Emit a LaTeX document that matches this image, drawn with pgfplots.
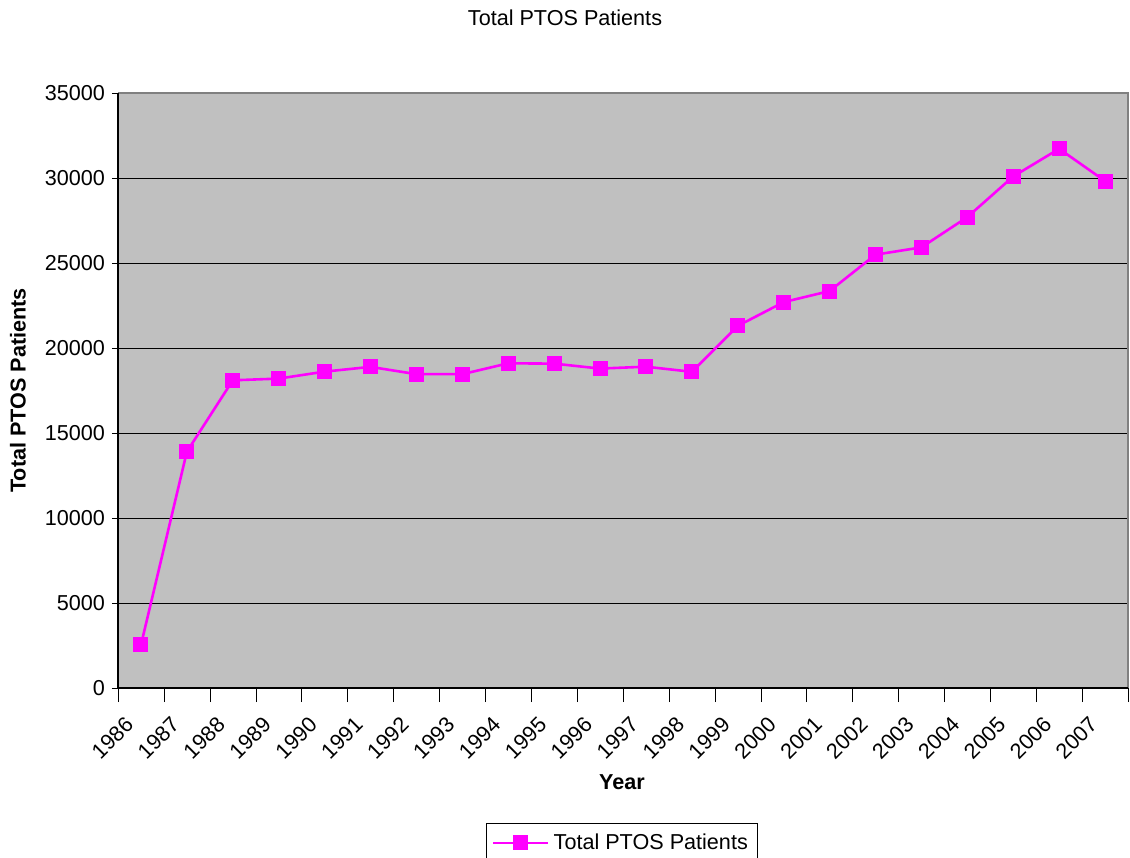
\documentclass[border=0pt]{standalone}
\usepackage{fontspec}
\setmainfont{Liberation Sans}
\usepackage{pgfplots}
\pgfplotsset{compat=1.18}
\definecolor{plotgray}{HTML}{C0C0C0}
\definecolor{edgegray}{HTML}{808080}
\definecolor{ptos}{HTML}{FF00FF}

\begin{document}
\begin{tikzpicture}
  \useasboundingbox (0,0) rectangle (565pt,428.5pt);
  \begin{axis}[
    at={(59pt,84.5pt)}, anchor=south west,
    scale only axis, width=505pt, height=297.5pt,
    /pgf/number format/assume math mode=true,
    font=\fontsize{10.8pt}{13pt}\selectfont,
    xmin=0, xmax=22, ymin=0, ymax=35000,
    axis background/.style={fill=plotgray},
    axis line style={draw=none},
    xtick={0.5,1.5,...,21.5},
    xticklabels={1986,1987,1988,1989,1990,1991,1992,1993,1994,1995,1996,1997,1998,1999,2000,2001,2002,2003,2004,2005,2006,2007},
    minor xtick={0,1,...,22},
    xtick pos=bottom, ytick pos=left,
    major x tick style={draw=none},
    minor x tick style={black},
    minor tick length=7pt,
    ytick={0,5000,...,35000},
    y tick style={black},
    major tick length=3pt,
    tick align=outside,
    scaled y ticks=false,
    yticklabel style={/pgf/number format/1000 sep={}},
    xticklabel style={xshift=-3.3pt, yshift=-11pt, rotate=45, anchor=east},
    ymajorgrids, grid style={black, line width=0.5pt},
    title={Total PTOS Patients},
    title style={at={(axis description cs:0.4426,1.107)}, anchor=center},
    xlabel={\textbf{Year}},
    xlabel style={at={(axis description cs:0.499,-0.158)}, anchor=center},
    ylabel={\textbf{Total PTOS Patients}},
    ylabel style={at={(axis description cs:-0.099,0.5)}, anchor=center, rotate=0},
    legend style={at={(axis description cs:0.499,-0.2269)}, anchor=north,
      draw=black, line width=0.5pt, inner xsep=3pt, inner ysep=3pt,
      font=\fontsize{10.8pt}{13pt}\selectfont},
    legend image code/.code={
      \draw[mark repeat=2, mark phase=2, #1] plot coordinates {(0pt,0pt) (13.75pt,0pt) (27.5pt,0pt)};
    },
    after end axis/.code={
      \draw[edgegray, line width=1pt] (rel axis cs:0,1) -- (rel axis cs:1,1) -- (rel axis cs:1,0);
      \draw[black, line width=0.6pt] (rel axis cs:0,1) -- (rel axis cs:0,0) -- (rel axis cs:1,0);
    },
  ]
  \addplot[ptos, line width=1.3pt, mark=square*, mark size=3.5pt,
    mark options={fill=ptos, draw=ptos, line width=0.5pt}] coordinates {
    (0.5, 2530) (1.5, 13900) (2.5, 18100) (3.5, 18200) (4.5, 18610)
    (5.5, 18890) (6.5, 18460) (7.5, 18460) (8.5, 19100) (9.5, 19080)
    (10.5, 18790) (11.5, 18900) (12.5, 18600) (13.5, 21300) (14.5, 22700)
    (15.5, 23350) (16.5, 25490) (17.5, 25920) (18.5, 27700) (19.5, 30090)
    (20.5, 31720) (21.5, 29820)
  };
  \addlegendentry{Total PTOS Patients}
  \end{axis}
\end{tikzpicture}
\end{document}
